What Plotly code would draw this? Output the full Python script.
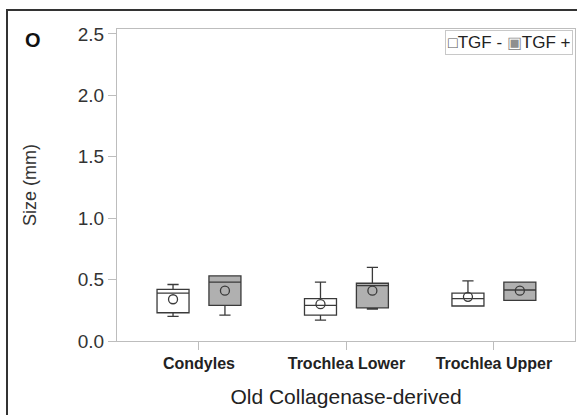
import plotly.graph_objects as go

categories = ["Condyles", "Trochlea Lower", "Trochlea Upper"]
series = ["TGF -", "TGF +"]

# five-number summaries + means per series (mm)
tgf_minus_min = [0.20, 0.17, 0.285]
tgf_minus_q1 = [0.23, 0.21, 0.285]
tgf_minus_median = [0.39, 0.29, 0.345]
tgf_minus_q3 = [0.42, 0.345, 0.39]
tgf_minus_max = [0.46, 0.48, 0.49]
tgf_minus_mean = [0.34, 0.30, 0.36]

tgf_plus_min = [0.21, 0.26, 0.33]
tgf_plus_q1 = [0.29, 0.27, 0.33]
tgf_plus_median = [0.48, 0.45, 0.415]
tgf_plus_q3 = [0.53, 0.47, 0.48]
tgf_plus_max = [0.53, 0.60, 0.48]
tgf_plus_mean = [0.41, 0.41, 0.41]

x_pos = list(range(len(categories)))
offset = 0.176
box_w = 0.217
line_col = "#3a3a3a"
fills = ["white", "#b0b0b0"]

fig = go.Figure()
specs = [
    (series[0], -offset, fills[0], tgf_minus_min, tgf_minus_q1, tgf_minus_median, tgf_minus_q3, tgf_minus_max, tgf_minus_mean),
    (series[1], offset, fills[1], tgf_plus_min, tgf_plus_q1, tgf_plus_median, tgf_plus_q3, tgf_plus_max, tgf_plus_mean),
]
for name, off, fill, mn, q1, med, q3, mx, mean in specs:
    xs = [x + off for x in x_pos]
    fig.add_trace(go.Box(
        name=name, x=xs, lowerfence=mn, q1=q1, median=med, q3=q3, upperfence=mx,
        fillcolor=fill, line=dict(color=line_col, width=1.3),
        width=box_w, whiskerwidth=0.35, showlegend=False,
    ))
    fig.add_trace(go.Scatter(
        x=xs, y=mean, mode="markers", showlegend=False,
        marker=dict(symbol="circle-open", size=9, color=line_col, line=dict(width=1.3)),
    ))

legend_text = (
    "<span style='font-size:16px;color:#555'>□</span>" + series[0] + " "
    + "<span style='font-size:16px;color:#8f8f8f'>▣</span>" + series[1]
)

fig.update_layout(
    width=577, height=415,
    margin=dict(l=117, r=2, t=29, b=74),
    paper_bgcolor="white", plot_bgcolor="white",
    font=dict(family="Arial, Liberation Sans, sans-serif", color="#333"),
    showlegend=False,
    xaxis=dict(
        range=[-0.556, 2.55], tickvals=x_pos, ticktext=categories,
        showgrid=False, zeroline=False, showline=True, linecolor="#bdbdbd",
        mirror=True, ticks="outside", ticklen=8, tickcolor="#bdbdbd",
        tickfont=dict(size=16, color="#222", weight="bold"),
        title=dict(text="Old Collagenase-derived", font=dict(size=21, color="#222"), standoff=18),
    ),
    yaxis=dict(
        range=[0, 2.54], tickvals=[0, 0.5, 1.0, 1.5, 2.0, 2.5],
        ticktext=["0.0", "0.5", "1.0", "1.5", "2.0", "2.5"],
        showgrid=False, zeroline=False, showline=True, linecolor="#bdbdbd",
        mirror=True, ticks="outside", ticklen=8, tickcolor="#bdbdbd",
        tickfont=dict(size=19, color="#333"),
        title=dict(text="Size (mm)", font=dict(size=18, color="#333"), standoff=36),
    ),
    shapes=[dict(
        type="rect", xref="paper", yref="paper",
        x0=(7 - 117) / 458, x1=(590 - 117) / 458,
        y0=(341 - 430) / 312, y1=(341 - 10) / 312,
        line=dict(color="#333", width=2), layer="below",
    )],
    annotations=[
        dict(
            text="<b>O</b>", xref="paper", yref="paper",
            x=(23 - 117) / 458, y=(341 - 40) / 312, yanchor="middle",
            showarrow=False, font=dict(size=20, color="#111"),
        ),
        dict(
            text=legend_text, xref="paper", yref="paper",
            x=1, xanchor="right", y=1, yanchor="top", xshift=-2, yshift=-1,
            showarrow=False, font=dict(size=17, color="#222"),
            bordercolor="#c8c8c8", borderwidth=1, borderpad=2, bgcolor="white",
        ),
    ],
)

fig.write_html("out.html")
